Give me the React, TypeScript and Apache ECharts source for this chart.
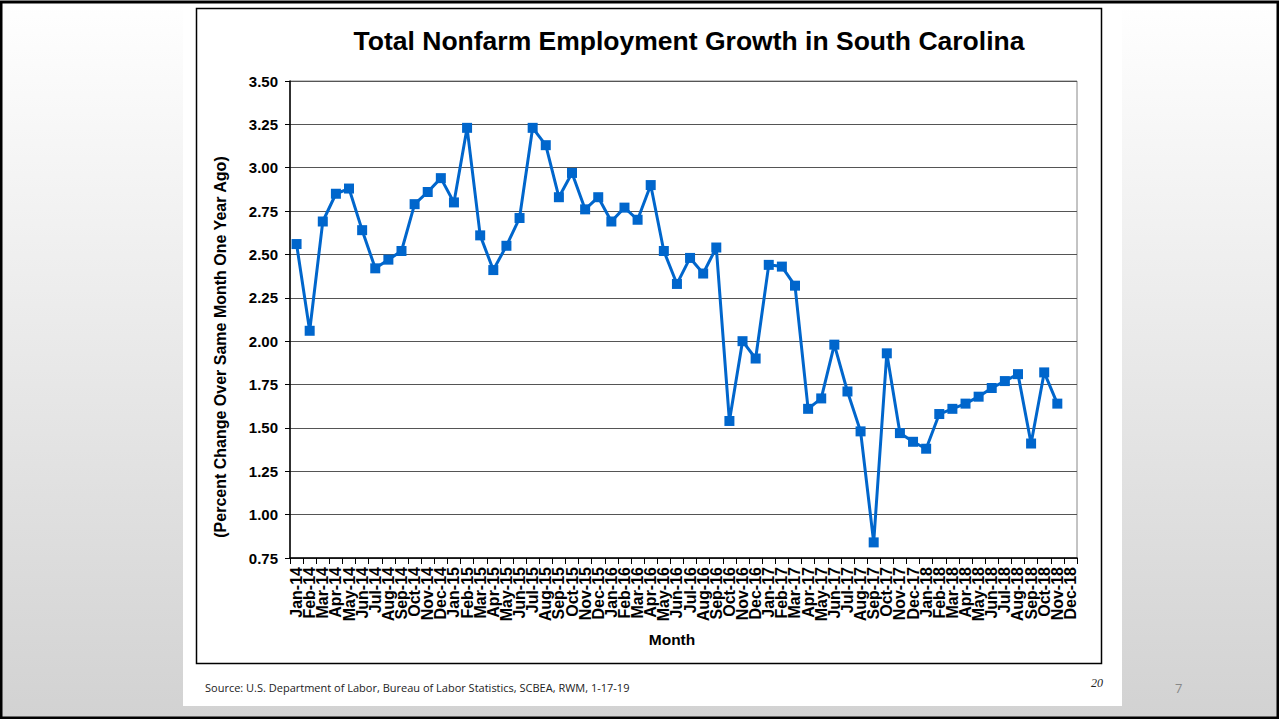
import React, { useEffect, useRef } from "react";
import * as echarts from "echarts";

const months = [
  "Jan-14","Feb-14","Mar-14","Apr-14","May-14","Jun-14","Jul-14","Aug-14","Sep-14","Oct-14","Nov-14","Dec-14",
  "Jan-15","Feb-15","Mar-15","Apr-15","May-15","Jun-15","Jul-15","Aug-15","Sep-15","Oct-15","Nov-15","Dec-15",
  "Jan-16","Feb-16","Mar-16","Apr-16","May-16","Jun-16","Jul-16","Aug-16","Sep-16","Oct-16","Nov-16","Dec-16",
  "Jan-17","Feb-17","Mar-17","Apr-17","May-17","Jun-17","Jul-17","Aug-17","Sep-17","Oct-17","Nov-17","Dec-17",
  "Jan-18","Feb-18","Mar-18","Apr-18","May-18","Jun-18","Jul-18","Aug-18","Sep-18","Oct-18","Nov-18","Dec-18",
];

const growth: (number | null)[] = [
  2.56, 2.06, 2.69, 2.85, 2.88, 2.64, 2.42, 2.47, 2.52, 2.79, 2.86, 2.94,
  2.80, 3.23, 2.61, 2.41, 2.55, 2.71, 3.23, 3.13, 2.83, 2.97, 2.76, 2.83,
  2.69, 2.77, 2.70, 2.90, 2.52, 2.33, 2.48, 2.39, 2.54, 1.54, 2.00, 1.90,
  2.44, 2.43, 2.32, 1.61, 1.67, 1.98, 1.71, 1.48, 0.84, 1.93, 1.47, 1.42,
  1.38, 1.58, 1.61, 1.64, 1.68, 1.73, 1.77, 1.81, 1.41, 1.82, 1.64, null,
];

const title = "Total Nonfarm Employment Growth in South Carolina";
const yName = "(Percent Change Over Same Month One Year Ago)";
const xName = "Month";
const source = "Source: U.S. Department of Labor, Bureau of Labor Statistics, SCBEA, RWM, 1-17-19";

export default function App() {
  const ref = useRef<HTMLDivElement>(null);
  useEffect(() => {
    if (!ref.current) return;
    const chart = echarts.init(ref.current, undefined, { renderer: "svg" });
    const font = "'Liberation Sans', Arial, sans-serif";
    chart.setOption({
      animation: false,
      graphic: [
        {
          type: "rect", z: -10, silent: true,
          shape: { x: 0, y: 0, width: 1279, height: 719 },
          style: {
            fill: new echarts.graphic.LinearGradient(0, 0, 0, 1, [
              { offset: 0, color: "#ffffff" },
              { offset: 1, color: "#d2d2d2" },
            ]),
          },
        },
        {
          type: "rect", z: -9, silent: true,
          shape: { x: 183, y: 0, width: 939, height: 706 },
          style: { fill: "#ffffff" },
        },
        {
          type: "rect", z: -8, silent: true,
          shape: { x: 196.5, y: 8.5, width: 905, height: 655 },
          style: { fill: "none", stroke: "#000", lineWidth: 1.5 },
        },
        {
          type: "rect", z: 50, silent: true,
          shape: { x: 1, y: 2, width: 1277, height: 716 },
          style: { fill: "none", stroke: "#000", lineWidth: 3 },
        },
        {
          type: "text", x: 220, y: 347, rotation: Math.PI / 2,
          style: {
            text: yName, font: `bold 16px ${font}`, fill: "#000",
            textAlign: "center", textVerticalAlign: "middle",
          },
        },
        {
          type: "text", x: 672, y: 639,
          style: {
            text: xName, font: `bold 15.5px ${font}`, fill: "#000",
            textAlign: "center", textVerticalAlign: "middle",
          },
        },
        {
          type: "text", left: 205, top: 682,
          style: { text: source, font: `11px 'Open Sans', sans-serif`, fill: "#222" },
        },
        {
          type: "text", left: 1091, top: 677,
          style: { text: "20", font: `italic 12px 'Liberation Serif', serif`, fill: "#222" },
        },
        {
          type: "text", left: 1175, top: 681,
          style: { text: "7", font: `13px 'Open Sans', sans-serif`, fill: "#888" },
        },
      ],
      title: {
        text: title,
        left: 684, top: 22, textAlign: "center",
        textStyle: { fontFamily: font, fontWeight: "bold", fontSize: 26.5, color: "#000" },
      },
      grid: {
        left: 290, right: 202, top: 81, bottom: 161,
        show: true, borderColor: "#888", borderWidth: 1, backgroundColor: "transparent",
      },
      xAxis: {
        type: "category",
        data: months,
        boundaryGap: true,
        axisLine: { lineStyle: { color: "#000", width: 1.5 } },
        axisTick: { show: true, length: 6, interval: 0, lineStyle: { color: "#000" } },
        axisLabel: {
          interval: 0, rotate: 90, margin: 9,
          fontFamily: font, fontWeight: "bold", fontSize: 16, color: "#000",
        },
        splitLine: { show: false },
      },
      yAxis: {
        type: "value",
        min: 0.75, max: 3.5, interval: 0.25,
        axisLine: { show: true, lineStyle: { color: "#000", width: 1.5 } },
        axisTick: { show: true, length: 5, lineStyle: { color: "#000" } },
        axisLabel: {
          margin: 12,
          fontFamily: font, fontWeight: "bold", fontSize: 15, color: "#000",
          formatter: (v: number) => v.toFixed(2),
        },
        splitLine: { show: true, lineStyle: { color: "#555", width: 1.2 } },
      },
      series: [
        {
          type: "line",
          data: growth,
          symbol: "rect",
          symbolSize: 10,
          lineStyle: { color: "#0066cc", width: 3 },
          itemStyle: { color: "#0066cc" },
          connectNulls: false,
        },
      ],
    });
    return () => chart.dispose();
  }, []);
  return (
    <div
      ref={ref}
      style={{ position: "absolute", left: 0, top: 0, width: 1279, height: 719 }}
    />
  );
}
